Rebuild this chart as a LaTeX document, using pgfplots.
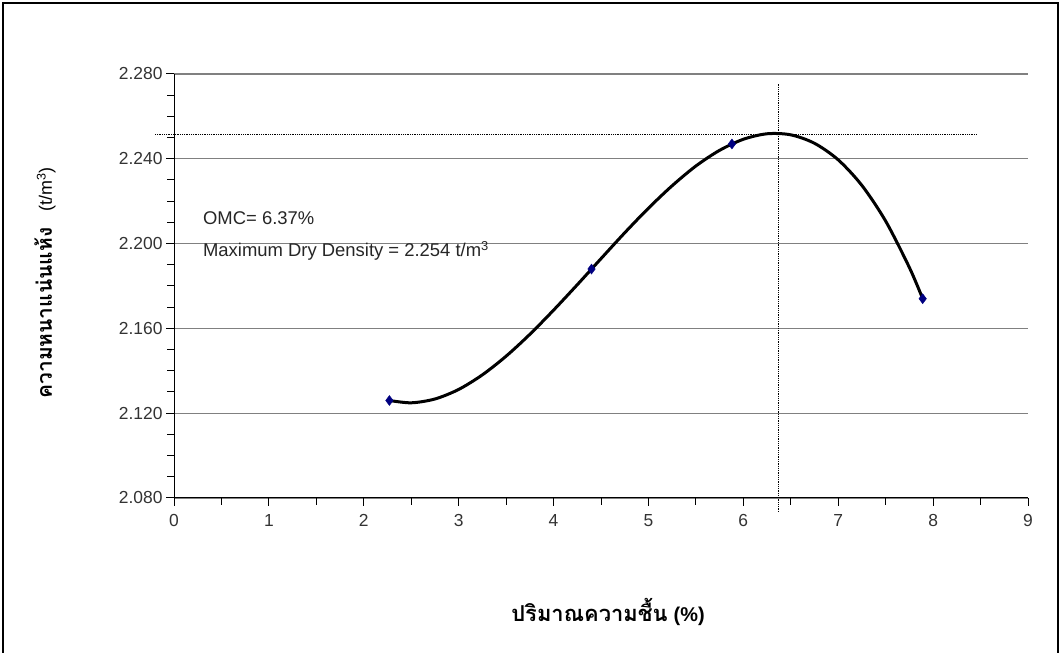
\documentclass[border=0pt]{standalone}
\usepackage{pgfplots}
\pgfplotsset{compat=1.18}
\usepackage{fontspec}
\setmainfont{Liberation Sans}
\newfontfamily\thaifont[Script=Thai]{Loma}
\definecolor{navymark}{RGB}{0,0,128}
\definecolor{gridgray}{RGB}{128,128,128}
\begin{document}
\begin{tikzpicture}[x=1bp,y=1bp]
\useasboundingbox (0,0) rectangle (1061,653);
\draw[line width=1.2bp] (3,-5) -- (3,650) -- (1058,650) -- (1058,-5);
\begin{axis}[
  at={(174bp,155bp)}, anchor=south west,
  scale only axis, width=854bp, height=424bp,
  xmin=0, xmax=9, ymin=2.08, ymax=2.28,
  axis x line*=bottom, axis y line*=left,
  axis line style={black, line width=1bp, -},
  xtick={0,1,...,9}, minor x tick num=1,
  ytick={2.08,2.12,2.16,2.20,2.24,2.28}, minor y tick num=3,
  tick align=outside,
  major tick length=8bp, minor tick length=7bp,
  every tick/.style={black, line width=1bp},
  ymajorgrids,
  major grid style={gridgray, line width=1.2bp},
  /pgf/number format/assume math mode=true,
  yticklabel style={/pgf/number format/fixed, /pgf/number format/fixed zerofill, /pgf/number format/precision=3, font=\fontsize{17.5}{17.5}\selectfont\color{black!80}},
  xticklabel style={font=\fontsize{17.5}{17.5}\selectfont\color{black!80}, yshift=-5bp},
  scaled y ticks=false,
  clip=false,
]
% dotted guide lines (OMC and maximum dry density)
\addplot[black, densely dotted, line width=0.8bp] coordinates {(-0.2,2.2513) (8.46,2.2513)};
\addplot[black, densely dotted, line width=0.8bp] coordinates {(6.37,2.0734) (6.37,2.2758)};
% trend curve
\addplot[black, line width=3bp, smooth] coordinates {
(2.27,2.1260) (2.5,2.1249) (2.75,2.1267) (3.0,2.1312) (3.25,2.1381) (3.5,2.1469)
(3.75,2.1572) (4.0,2.1686) (4.25,2.1806) (4.5,2.1929) (4.75,2.2051) (5.0,2.2167)
(5.25,2.2273) (5.5,2.2366) (5.75,2.2440) (6.0,2.2492) (6.25,2.2518) (6.5,2.2513)
(6.75,2.2473) (7.0,2.2395) (7.25,2.2274) (7.5,2.2106) (7.75,2.1887) (7.89,2.1740)
};
% measured points
\addplot[only marks, mark=diamond*, mark size=5bp, color=navymark] coordinates {
(2.27,2.126) (4.40,2.188) (5.88,2.247) (7.89,2.174)
};
\node[anchor=west, font=\fontsize{18.5}{18.5}\selectfont, text=black!85] at (axis cs:0.27,2.2118) {OMC= 6.37\%};
\node[anchor=west, font=\fontsize{18.5}{18.5}\selectfont, text=black!85] at (axis cs:0.27,2.1967) {Maximum Dry Density = 2.254 t/m\textsuperscript{3}};
\end{axis}
\node[rotate=90, anchor=center] at (45,370) {{\thaifont\bfseries\fontsize{21}{21}\selectfont ความหนาแน่นแห้ง}\hspace{16bp}{\fontsize{18}{18}\selectfont (t/m\textsuperscript{3})}};
\node[anchor=center] at (608,41) {{\thaifont\bfseries\fontsize{22}{22}\selectfont ปริมาณความชื้น}\hspace{6bp}{\bfseries\fontsize{20}{20}\selectfont (\%)}};
\end{tikzpicture}
\end{document}
